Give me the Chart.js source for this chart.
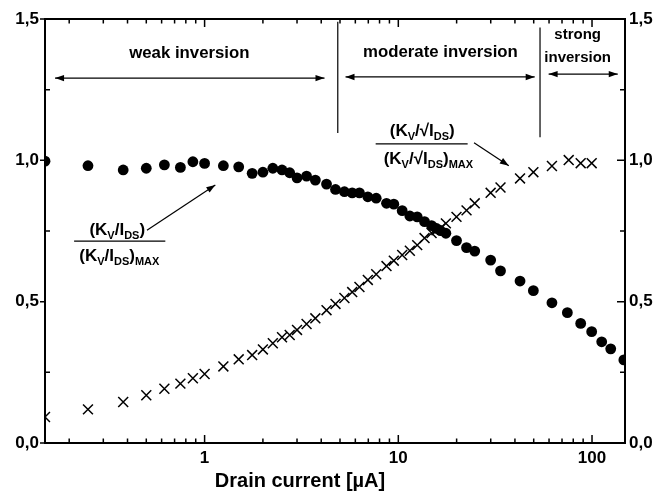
<!DOCTYPE html>
<html>
<head>
<meta charset="UTF-8">
<title>Drain current</title>
<script src="https://cdn.jsdelivr.net/npm/chart.js"></script>
<style>
  body { margin: 0; background: #fff; }
</style>
</head>
<body>
<canvas id="chart" width="659" height="498"></canvas>
<script>
// (Kv/Ids)/(Kv/Ids)max  - filled circles
const circleCurrent = [0.15, 0.25, 0.38, 0.5, 0.62, 0.75, 0.87, 1.0, 1.25, 1.5, 1.76, 2.0, 2.25, 2.51, 2.75, 3.0, 3.36, 3.73, 4.26,
  4.74, 5.27, 5.78, 6.3, 6.96, 7.69, 8.69, 9.48, 10.47, 11.47, 12.52, 13.66, 14.85, 15.74, 16.52, 17.6, 19.97, 22.5, 24.8,
  29.97, 33.7, 42.5, 49.8, 62.1, 74.6, 87.4, 99.6, 112.2, 124.9, 146];
const circleRatio = [0.997, 0.981, 0.966, 0.972, 0.984, 0.975, 0.995, 0.989, 0.981, 0.977, 0.954, 0.958, 0.972, 0.966, 0.956, 0.938, 0.944, 0.930, 0.916,
  0.897, 0.889, 0.885, 0.885, 0.871, 0.866, 0.848, 0.845, 0.822, 0.803, 0.800, 0.783, 0.769, 0.759, 0.751, 0.742, 0.716, 0.691, 0.679,
  0.647, 0.609, 0.573, 0.539, 0.496, 0.461, 0.423, 0.394, 0.358, 0.333, 0.294];

// (Kv/sqrt(Ids))/(Kv/sqrt(Ids))max  - crosses
const crossCurrent = [0.15, 0.25, 0.38, 0.5, 0.62, 0.75, 0.87, 1.0, 1.25, 1.5, 1.76, 2.0, 2.25, 2.51, 2.75, 3.0, 3.36, 3.73, 4.26,
  4.74, 5.27, 5.78, 6.3, 6.96, 7.69, 8.69, 9.48, 10.47, 11.47, 12.52, 13.66, 14.85, 15.74, 16.52, 17.6, 19.97, 22.5, 24.8,
  29.97, 33.7, 42.5, 49.8, 62.1, 75.8, 87.4, 99.6];
const crossRatio = [0.092, 0.119, 0.145, 0.169, 0.192, 0.210, 0.229, 0.244, 0.271, 0.296, 0.311, 0.331, 0.353, 0.374, 0.382, 0.400, 0.421, 0.441, 0.470,
  0.492, 0.513, 0.534, 0.552, 0.577, 0.597, 0.626, 0.645, 0.665, 0.680, 0.700, 0.725, 0.743, 0.753, 0.760, 0.777, 0.800, 0.823, 0.848,
  0.885, 0.904, 0.936, 0.958, 0.980, 1.001, 0.990, 0.990];

const xTickLabels = [1, 10, 100];
const yTickLabels = [0, 0.5, 1.0, 1.5];

const FONT = '"Liberation Sans", Arial, Helvetica, sans-serif';

function toPoints(xs, ys) {
  return xs.map((x, i) => ({ x: x, y: ys[i] }));
}

function arrowHead(ctx, x1, y1, x2, y2) {
  const a = Math.atan2(y2 - y1, x2 - x1);
  const len = 9, hw = 3.2;
  ctx.beginPath();
  ctx.moveTo(x2, y2);
  ctx.lineTo(x2 - len * Math.cos(a) + hw * Math.sin(a), y2 - len * Math.sin(a) - hw * Math.cos(a));
  ctx.lineTo(x2 - len * Math.cos(a) - hw * Math.sin(a), y2 - len * Math.sin(a) + hw * Math.cos(a));
  ctx.closePath();
  ctx.fill();
}

function arrow(ctx, a, b, both) {
  ctx.beginPath();
  ctx.moveTo(a[0], a[1]);
  ctx.lineTo(b[0], b[1]);
  ctx.stroke();
  arrowHead(ctx, a[0], a[1], b[0], b[1]);
  if (both) arrowHead(ctx, b[0], b[1], a[0], a[1]);
}

// text with subscripts, centred on cx
function rich(ctx, parts, cx, by) {
  let w = 0;
  parts.forEach(p => {
    ctx.font = 'bold ' + (p.sub ? 11 : 17) + 'px ' + FONT;
    p.w = ctx.measureText(p.t).width;
    w += p.w;
  });
  let x = cx - w / 2;
  ctx.textAlign = 'left';
  ctx.textBaseline = 'alphabetic';
  parts.forEach(p => {
    ctx.font = 'bold ' + (p.sub ? 11 : 17) + 'px ' + FONT;
    ctx.fillText(p.t, x, by + (p.sub ? 4 : 0));
    x += p.w;
  });
}

const decorations = {
  id: 'decorations',
  afterDraw(chart) {
    const ctx = chart.ctx;
    const xs = chart.scales.x, ys = chart.scales.y;
    const { left, right, top, bottom } = chart.chartArea;
    const P = (x, y) => [xs.getPixelForValue(x), ys.getPixelForValue(y)];

    ctx.save();
    ctx.strokeStyle = '#000';
    ctx.fillStyle = '#000';

    // frame
    ctx.lineWidth = 2;
    ctx.strokeRect(left, top, right - left, bottom - top);

    // x ticks (inward, top and bottom)
    ctx.lineWidth = 1.5;
    ctx.beginPath();
    [0.1, 1, 10, 100].forEach(dec => {
      for (let m = 1; m <= 9; m++) {
        const v = m * dec;
        if (v < xs.min || v > xs.max) continue;
        const px = xs.getPixelForValue(v);
        const len = m === 1 ? 8 : 4.5;
        ctx.moveTo(px, bottom); ctx.lineTo(px, bottom - len);
        ctx.moveTo(px, top); ctx.lineTo(px, top + len);
      }
    });
    // y ticks
    for (let i = 0; i <= 6; i++) {
      const v = i * 0.25;
      const py = ys.getPixelForValue(v);
      if (i % 2 === 0) {
        ctx.moveTo(left - 5, py); ctx.lineTo(left, py);
        ctx.moveTo(right - 8, py); ctx.lineTo(right, py);
      } else {
        ctx.moveTo(left, py); ctx.lineTo(left + 5, py);
        ctx.moveTo(right - 5, py); ctx.lineTo(right, py);
      }
    }
    ctx.stroke();

    // region boundaries
    ctx.lineWidth = 1.2;
    ctx.beginPath();
    let a = P(4.87, 1.49), b = P(4.87, 1.097);
    ctx.moveTo(a[0], a[1]); ctx.lineTo(b[0], b[1]);
    a = P(53.9, 1.47); b = P(53.9, 1.082);
    ctx.moveTo(a[0], a[1]); ctx.lineTo(b[0], b[1]);
    ctx.stroke();

    arrow(ctx, P(0.169, 1.291), P(4.16, 1.291), true);
    arrow(ctx, P(5.34, 1.295), P(50.6, 1.295), true);
    arrow(ctx, P(59.7, 1.305), P(135.8, 1.305), true);

    ctx.font = 'bold 16.8px ' + FONT;
    ctx.textAlign = 'center';
    ctx.textBaseline = 'middle';
    let t = P(0.834, 1.380); ctx.fillText('weak inversion', t[0], t[1]);
    t = P(16.5, 1.383); ctx.fillText('moderate inversion', t[0], t[1]);
    ctx.font = 'bold 15px ' + FONT;
    t = P(84.3, 1.443); ctx.fillText('strong', t[0], t[1]);
    t = P(84.3, 1.362); ctx.fillText('inversion', t[0], t[1]);

    // label for circles
    t = P(0.354, 0.757);
    rich(ctx, [{ t: '(K' }, { t: 'V', sub: true }, { t: '/I' }, { t: 'DS', sub: true }, { t: ')' }], t[0], t[1] + 6);
    a = P(0.212, 0.7145); b = P(0.627, 0.7145);
    ctx.lineWidth = 1.2;
    ctx.beginPath(); ctx.moveTo(a[0], a[1]); ctx.lineTo(b[0], b[1]); ctx.stroke();
    t = P(0.363, 0.658);
    rich(ctx, [{ t: '(K' }, { t: 'V', sub: true }, { t: '/I' }, { t: 'DS', sub: true }, { t: ')' }, { t: 'MAX', sub: true }], t[0], t[1] + 4);
    arrow(ctx, P(0.504, 0.753), P(1.136, 0.913), false);

    // label for crosses
    t = P(13.29, 1.107);
    rich(ctx, [{ t: '(K' }, { t: 'V', sub: true }, { t: '/\u221AI' }, { t: 'DS', sub: true }, { t: ')' }], t[0], t[1] + 6);
    a = P(7.64, 1.058); b = P(22.8, 1.058);
    ctx.beginPath(); ctx.moveTo(a[0], a[1]); ctx.lineTo(b[0], b[1]); ctx.stroke();
    t = P(14.3, 1.001);
    rich(ctx, [{ t: '(K' }, { t: 'V', sub: true }, { t: '/\u221AI' }, { t: 'DS', sub: true }, { t: ')' }, { t: 'MAX', sub: true }], t[0], t[1] + 4);
    arrow(ctx, P(24.6, 1.062), P(37.2, 0.981), false);

    // axis title
    ctx.font = 'bold 20px ' + FONT;
    ctx.textAlign = 'center';
    ctx.textBaseline = 'middle';
    ctx.fillText('Drain current [\u00B5A]', 300, 481);

    ctx.restore();
  }
};

const yTicks = {
  callback: v => yTickLabels.includes(v) ? v.toFixed(1).replace('.', ',') : '',
  stepSize: 0.5,
  color: '#000',
  font: { family: FONT, size: 17, weight: 'bold' }
};

new Chart(document.getElementById('chart'), {
  type: 'scatter',
  data: {
    datasets: [
      {
        data: toPoints(circleCurrent, circleRatio),
        pointStyle: 'circle',
        pointRadius: 5.4,
        backgroundColor: '#000',
        borderColor: '#000',
        borderWidth: 0
      },
      {
        data: toPoints(crossCurrent, crossRatio),
        pointStyle: 'crossRot',
        pointRadius: 7,
        borderColor: '#000',
        backgroundColor: '#000',
        borderWidth: 1.5
      }
    ]
  },
  options: {
    responsive: false,
    animation: false,
    layout: { padding: { top: 19, left: 0, right: 0, bottom: 0 } },
    plugins: { legend: { display: false }, tooltip: { enabled: false } },
    scales: {
      x: {
        type: 'logarithmic',
        position: 'bottom',
        min: 0.15,
        max: 148,
        grid: { display: false, drawTicks: false },
        border: { display: false },
        ticks: {
          autoSkip: false,
          maxRotation: 0,
          padding: 5,
          color: '#000',
          font: { family: FONT, size: 17, weight: 'bold' },
          callback: v => xTickLabels.some(t => Math.abs(t - v) < 1e-9) ? String(Math.round(v)) : ''
        },
        afterFit: s => { s.height = 55; }
      },
      y: {
        position: 'left',
        min: 0,
        max: 1.5,
        grid: { display: false, drawTicks: false },
        border: { display: false },
        ticks: Object.assign({ padding: 6 }, yTicks),
        afterFit: s => { s.width = 45; }
      },
      y2: {
        position: 'right',
        min: 0,
        max: 1.5,
        grid: { display: false, drawTicks: false },
        border: { display: false },
        ticks: Object.assign({ padding: 4 }, yTicks),
        afterFit: s => { s.width = 34; }
      }
    }
  },
  plugins: [decorations]
});
</script>
</body>
</html>
